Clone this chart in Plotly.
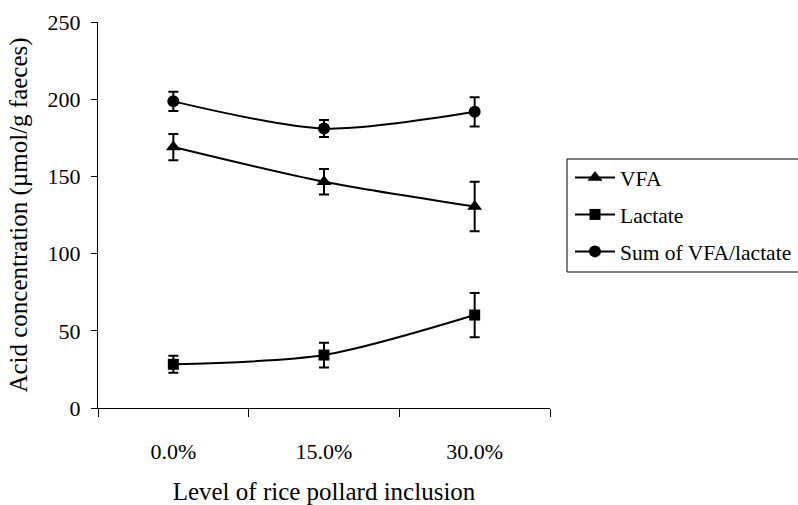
import plotly.graph_objects as go

categories = ["0.0%", "15.0%", "30.0%"]
vfa = [169, 146.5, 130.5]
vfa_err = [8.5, 8.3, 16]
lactate = [28.3, 34.3, 60.2]
lactate_err = [5.5, 8, 14.3]
total = [198.6, 181, 191.8]
total_err = [6.2, 5.5, 9.5]

W, H = 798, 505
L, R, T, B = 98, 550, 22, 408

FONT = "Liberation Serif, Times New Roman, serif"

fig = go.Figure()

def add(name, y, err, symbol, size):
    fig.add_trace(go.Scatter(
        x=categories, y=y, name=name, legendgroup=name,
        mode="lines+markers",
        line=dict(color="black", width=2, shape="spline", smoothing=0.8),
        marker=dict(symbol=symbol, size=size, color="black"),
        error_y=dict(type="data", array=err, visible=True, color="black",
                     thickness=2, width=5),
    ))

add("VFA", vfa, vfa_err, "triangle-up", 13)
add("Lactate", lactate, lactate_err, "square", 11)
add("Sum of VFA/lactate", total, total_err, "circle", 12)

pw = R - L
ph = B - T

def px(x):
    return (x - L) / pw

def py(y):
    return (B - y) / ph

fig.update_layout(
    width=W, height=H,
    margin=dict(l=L, r=W - R, t=T, b=H - B, autoexpand=False),
    paper_bgcolor="white", plot_bgcolor="white",
    font=dict(family=FONT, size=22, color="black"),
    showlegend=True,
    legend=dict(
        x=px(570), y=py(157), xanchor="left", yanchor="top",
        xref="paper", yref="paper",
        bgcolor="rgba(0,0,0,0)", borderwidth=0,
        font=dict(family=FONT, size=21.5, color="black"),
        tracegroupgap=6, itemwidth=40,
        entrywidthmode="pixels", entrywidth=150,
    ),
    xaxis=dict(
        type="category", range=[-0.5, 2.5], automargin=False,
        showline=True, linecolor="black", linewidth=1,
        ticks="outside", ticklen=8, tickcolor="black", tickwidth=1,
        tickson="boundaries", showgrid=False, zeroline=False,
        ticklabelstandoff=24,
        tickfont=dict(family=FONT, size=22),
        title=dict(text="Level of rice pollard inclusion",
                   font=dict(family=FONT, size=25), standoff=22),
    ),
    yaxis=dict(
        range=[0, 250], tickvals=[0, 50, 100, 150, 200, 250], automargin=False,
        showline=True, linecolor="black", linewidth=1,
        ticks="outside", ticklen=6, tickcolor="black", tickwidth=1,
        showgrid=False, zeroline=False,
        ticklabelstandoff=6,
        tickfont=dict(family=FONT, size=22),
        title=dict(text="Acid concentration (µmol/g faeces)",
                   font=dict(family=FONT, size=25), standoff=12),
    ),
    shapes=[dict(
        type="rect", xref="paper", yref="paper",
        x0=px(567), x1=px(812), y0=py(272), y1=py(159),
        line=dict(color="black", width=1), fillcolor="rgba(0,0,0,0)",
    )],
)

fig.write_html("out.html")
